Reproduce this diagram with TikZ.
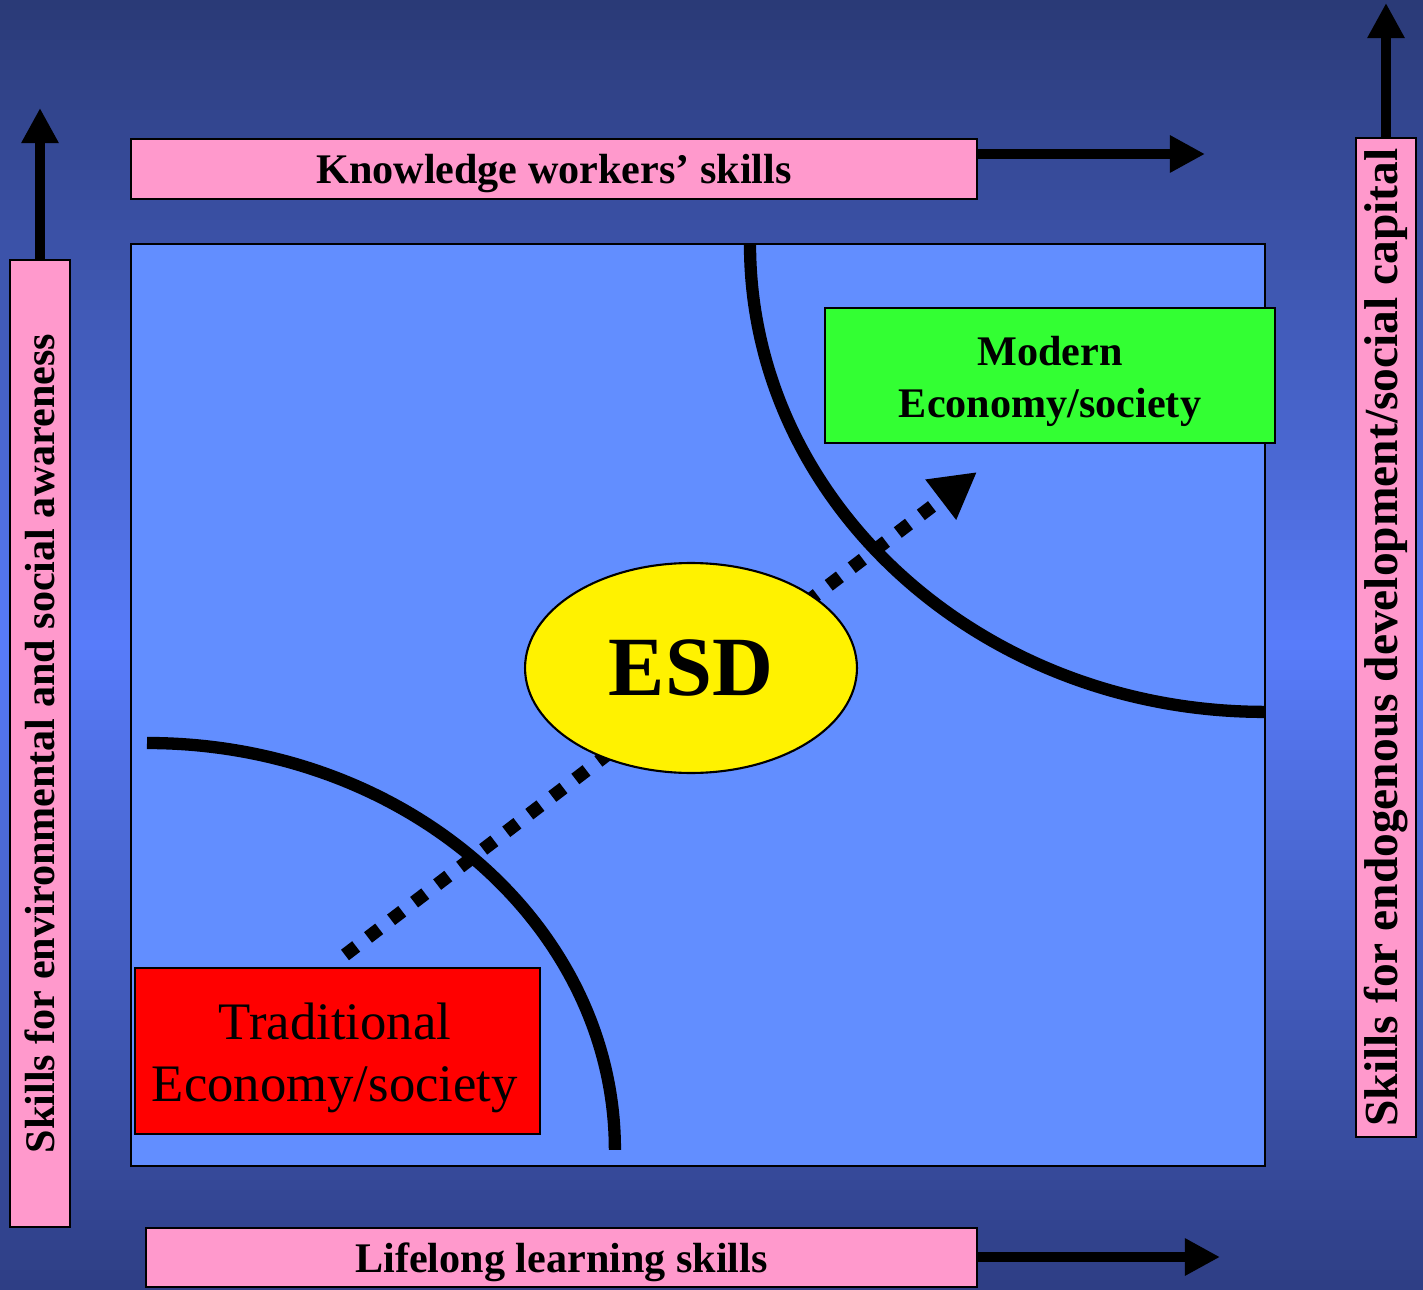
\documentclass[tikz,border=0pt]{standalone}
\usepackage{fontspec}
\setmainfont{Liberation Serif}
\usetikzlibrary{arrows.meta,shapes.geometric}

\definecolor{bgdark}{RGB}{42,57,118}
\definecolor{bgmid}{RGB}{88,124,250}
\definecolor{bgbottom}{RGB}{46,62,132}
\definecolor{planeblue}{RGB}{98,142,255}
\definecolor{skillpink}{RGB}{255,153,204}
\definecolor{moderngreen}{RGB}{51,255,51}

\begin{document}
\begin{tikzpicture}[x=0.02cm, y=-0.02cm,
  skillbox/.style={draw=black, line width=1.2pt, fill=skillpink, inner sep=0pt,
    font=\bfseries\fontsize{24}{28}\selectfont},
  econbox/.style={draw=black, line width=1.2pt, inner sep=0pt},
  axisarrow/.style={-{Triangle[length=20pt,width=20pt]}, line width=6.2pt},
  divide/.style={line width=7pt},
  growth/.style={-{Triangle[length=26pt,width=27pt]}, line width=7.5pt,
    dash pattern=on 8pt off 8.5pt}]

  % Background, dark at top and bottom, light in the middle
  \useasboundingbox (0,0) rectangle (1423,1290);
  \foreach \row in {0,...,128}{
    \pgfmathsetmacro\mix{100-abs(\row*10+5-645)/6.45}
    \ifnum\row<65 \colorlet{band}{bgmid!\mix!bgdark}\else\colorlet{band}{bgmid!\mix!bgbottom}\fi
    \fill[band] (0,\row*10) rectangle (1423,\row*10+11);
  }

  % Plane of economies
  \draw[line width=1.2pt, fill=planeblue] (131,244) rectangle (1265,1166);

  % Dividing curves
  \draw[divide] (147,743) arc[start angle=90, end angle=0, x radius=9.36cm, y radius=8.14cm];
  \draw[divide] (750,244) arc[start angle=180, end angle=270, x radius=10.3cm, y radius=9.36cm];

  % Path from traditional to modern
  \coordinate (esdstart) at (345,955);
  \coordinate (esdtip) at (977,472);
  \draw[growth] (esdstart) -- (esdtip);

  % ESD in the middle
  \node[ellipse, draw, line width=1.2pt, fill=yellow, minimum width=6.64cm, minimum height=4.2cm,
    inner sep=0pt, font=\bfseries\fontsize{48}{52}\selectfont] (esd) at (691,668) {ESD};

  % Economies
  \node[econbox, fill=moderngreen, minimum width=9cm, minimum height=2.7cm,
    label={[align=center, yshift=-3.3pt, font=\bfseries\fontsize{24}{29.5}\selectfont]center:Modern\\Economy/society}]
    (modern) at (1050,375.5) {};
  \node[econbox, fill=red, minimum width=8.1cm, minimum height=3.32cm,
    label={[align=center, xshift=-1.5pt, yshift=-4pt, font=\fontsize{30}{35.7}\selectfont]center:Traditional\\Economy/society}]
    (traditional) at (337.5,1051) {};

  % Skill axes
  \node[skillbox, text depth=0pt, minimum width=16.92cm, minimum height=1.2cm] (knowskill) at (554,169)
    {Knowledge workers’ skills};
  \node[skillbox, text depth=0pt, minimum width=16.62cm, minimum height=1.18cm] (lifeskill) at (561.5,1257.5)
    {Lifelong learning skills};
  \node[skillbox, rotate=90, minimum width=19.34cm, minimum height=1.2cm] (envskill) at (40,743.5)
    {Skills for environmental and social awareness};
  \node[skillbox, rotate=90, minimum width=19.98cm, minimum height=1.2cm,
    font=\bfseries\fontsize{27}{31}\selectfont] (endoskill) at (1386,637.5)
    {Skills for endogenous development/social capital};

  % Axis arrows
  \coordinate (knowtip) at (1205,154);
  \coordinate (lifetip) at (1220,1257);
  \coordinate (envtip) at (40,108);
  \coordinate (endotip) at (1386,3);
  \draw[axisarrow] (knowskill.east |- knowtip) -- (knowtip);
  \draw[axisarrow] (lifeskill.east |- lifetip) -- (lifetip);
  \draw[axisarrow] (envskill.east) -- (envtip);
  \draw[axisarrow] (endoskill.east) -- (endotip);

\end{tikzpicture}
\end{document}
